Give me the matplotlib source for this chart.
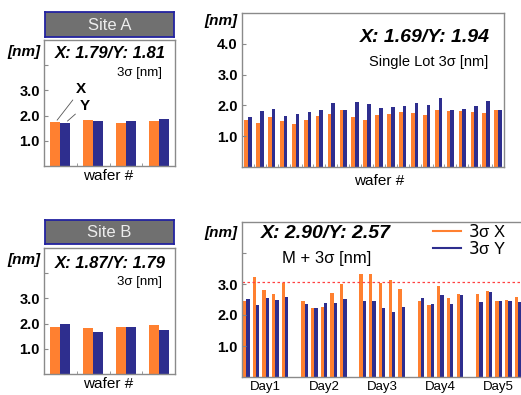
"""Overlay 3-sigma summary: per-site, single lot and day-to-day (M + 3 sigma)."""
import matplotlib
matplotlib.use("Agg")
import matplotlib.pyplot as plt
import numpy as np
from matplotlib.lines import Line2D

plt.rcParams["font.family"] = ["Liberation Sans", "DejaVu Sans"]
plt.rcParams["mathtext.fontset"] = "custom"
plt.rcParams["mathtext.it"] = "Liberation Sans:italic:bold"

# ---- data -----------------------------------------------------------------
SITE_A_X = [1.73, 1.83, 1.71, 1.80]
SITE_A_Y = [1.71, 1.77, 1.80, 1.87]
SITE_B_X = [1.85, 1.84, 1.88, 1.96]
SITE_B_Y = [1.99, 1.68, 1.88, 1.73]

LOT_X = [1.54, 1.43, 1.61, 1.49, 1.38, 1.52, 1.65, 1.71, 1.84, 1.61, 1.52,
         1.68, 1.72, 1.78, 1.74, 1.70, 1.85, 1.81, 1.81, 1.77, 1.76, 1.85]
LOT_Y = [1.61, 1.81, 1.88, 1.64, 1.72, 1.77, 1.85, 2.08, 1.86, 2.12, 2.06,
         1.93, 1.96, 1.99, 2.08, 2.02, 2.23, 1.85, 1.87, 1.98, 2.14, 1.85]

DAYS = ["Day1", "Day2", "Day3", "Day4", "Day5"]
DAY_X = [[2.46, 3.24, 2.80, 2.69, 3.04],
         [2.46, 2.22, 2.25, 2.71, 2.99],
         [3.32, 3.32, 3.03, 3.13, 2.84],
         [2.44, 2.32, 2.95, 2.56, 2.69],
         [2.68, 2.76, 2.44, 2.49, 2.57]]
DAY_Y = [[2.52, 2.31, 2.55, 2.47, 2.58],
         [2.37, 2.22, 2.40, 2.38, 2.53],
         [2.46, 2.44, 2.23, 2.11, 2.26],
         [2.56, 2.37, 2.66, 2.37, 2.64],
         [2.43, 2.73, 2.44, 2.46, 2.42]]
LIMIT = 3.07

SUMMARY = {"A": "X: 1.79/Y: 1.81", "B": "X: 1.87/Y: 1.79",
           "lot": "X: 1.69/Y: 1.94", "day": "X: 2.90/Y: 2.57"}

# ---- style ------------------------------------------------------------------
ORANGE = "#FF8030"
BLUE = "#2E2E8E"
SPINE = "#8A8A8A"
W, H = 521, 395

fig = plt.figure(figsize=(W / 100, H / 100), dpi=100)


def px_axes(x0, y0, x1, y1):
    """Axes from pixel box (top-left origin)."""
    return fig.add_axes([x0 / W, 1 - y1 / H, (x1 - x0) / W, (y1 - y0) / H])


def ftext(x, y, s, **kw):
    kw.setdefault("ha", "center")
    kw.setdefault("va", "center")
    fig.text(x / W, 1 - y / H, s, **kw)


def style(ax, labels):
    ax.set_ylim(0, 5)
    ax.set_yticks([1, 2, 3, 4])
    ax.set_yticklabels(labels, fontsize=10.5, fontweight="bold")
    ax.tick_params(axis="y", direction="in", length=3, width=0.8,
                   color=SPINE, pad=3)
    ax.tick_params(axis="x", direction="in", length=2, width=0.6, color=SPINE)
    for sp in ax.spines.values():
        sp.set_color(SPINE)
        sp.set_linewidth(1.0)


def pair_bars(ax, xs, ys, w):
    pos = np.arange(len(xs))
    ax.bar(pos - w, xs, w, align="edge", color=ORANGE, linewidth=0)
    ax.bar(pos, ys, w, align="edge", color=BLUE, linewidth=0)
    return pos


def header(x0, y0, x1, y1, text):
    hx = px_axes(x0, y0, x1, y1)
    hx.set_facecolor("#707070")
    hx.set_xticks([])
    hx.set_yticks([])
    for sp in hx.spines.values():
        sp.set_color("#2323A0")
        sp.set_linewidth(1.3)
    hx.text(0.5, 0.48, text, transform=hx.transAxes, ha="center",
            va="center", color="#EDEDED", fontsize=12)


BI = dict(fontweight="bold", style="italic")

# ---- Site A -----------------------------------------------------------------
header(45, 12, 174, 37, "Site A")
axA = px_axes(44, 40, 175, 166)
w = 0.305
pos = pair_bars(axA, SITE_A_X, SITE_A_Y, w)
axA.set_xlim(-0.5, len(SITE_A_X) - 0.5)
axA.set_xticks(pos[:-1] + 0.5)
axA.set_xticklabels([])
style(axA, ["1.0", "2.0", "3.0", ""])
arrow = dict(arrowstyle="-", color="#555555", lw=0.6, shrinkA=1, shrinkB=2)
axA.annotate("X", xy=(pos[0] - w / 2, SITE_A_X[0]), xytext=(15, 24),
             textcoords="offset points", ha="left", va="center",
             fontsize=11, fontweight="bold", arrowprops=arrow)
axA.annotate("Y", xy=(pos[0] + w / 2, SITE_A_Y[0]), xytext=(10, 12),
             textcoords="offset points", ha="left", va="center",
             fontsize=11, fontweight="bold", arrowprops=arrow)
ftext(24, 52, "[nm]", fontsize=11, **BI)
ftext(110, 53, SUMMARY["A"], fontsize=12, **BI)
ftext(162, 73, "3σ [nm]", fontsize=9.5, ha="right")
ftext(108, 176, "wafer #", fontsize=11)

# ---- Site B -----------------------------------------------------------------
header(45, 220, 174, 244, "Site B")
axB = px_axes(44, 248, 175, 374)
pos = pair_bars(axB, SITE_B_X, SITE_B_Y, w)
axB.set_xlim(-0.5, len(SITE_B_X) - 0.5)
axB.set_xticks(pos[:-1] + 0.5)
axB.set_xticklabels([])
style(axB, ["1.0", "2.0", "3.0", ""])
ftext(24, 260, "[nm]", fontsize=11, **BI)
ftext(110, 263, SUMMARY["B"], fontsize=12, **BI)
ftext(162, 282, "3σ [nm]", fontsize=9.5, ha="right")
ftext(108, 384, "wafer #", fontsize=11)

# ---- Single lot -------------------------------------------------------------
axL = px_axes(242, 13, 504, 167)
pos = pair_bars(axL, LOT_X, LOT_Y, 0.31)
axL.set_xlim(-0.5, len(LOT_X) - 0.5)
axL.set_xticks(pos[:-1] + 0.5)
axL.set_xticklabels([])
style(axL, ["1.0", "2.0", "3.0", "4.0"])
ftext(221, 21, "[nm]", fontsize=11, **BI)
ftext(490, 37, SUMMARY["lot"], fontsize=14, ha="right", **BI)
ftext(488, 62, "Single Lot 3σ [nm]", fontsize=10.5, ha="right")
ftext(379, 181, "wafer #", fontsize=11)

# ---- Day to day (M + 3 sigma) -----------------------------------------------
axD = px_axes(242, 222, 521, 377)
n_per_day = len(DAY_X[0])
slot = n_per_day + 1
wd = 0.34
for d in range(len(DAYS)):
    x = d * slot + np.arange(n_per_day)
    axD.bar(x - wd, DAY_X[d], wd, align="edge", color=ORANGE, linewidth=0)
    axD.bar(x, DAY_Y[d], wd, align="edge", color=BLUE, linewidth=0)
axD.axhline(LIMIT, color="#FF4040", lw=0.9, ls=(0, (2, 2)))
axD.set_xlim(-0.44, 28.3)
axD.set_xticks([d * slot + (n_per_day - 1) / 2 for d in range(len(DAYS))])
axD.set_xticklabels(DAYS, fontsize=9.5)
style(axD, ["1.0", "2.0", "3.0", ""])
axD.tick_params(axis="x", length=0, pad=3)
axD.spines["right"].set_visible(False)
ftext(221, 233, "[nm]", fontsize=11, **BI)
ftext(326, 233, SUMMARY["day"], fontsize=14, **BI)
ftext(327, 258, "M + 3σ [nm]", fontsize=12)
handles = [Line2D([], [], color=ORANGE, lw=1.5),
           Line2D([], [], color=BLUE, lw=1.5)]
fig.legend(handles, [r"$\mathit{3}$σ X", r"$\mathit{3}$σ Y"],
           loc="upper right", bbox_to_anchor=(506 / W, 1 - 223 / H),
           frameon=False, fontsize=12, handlelength=1.7, handletextpad=0.4,
           labelspacing=0.0, borderaxespad=0, borderpad=0)

fig.savefig("out.png", dpi=100)
